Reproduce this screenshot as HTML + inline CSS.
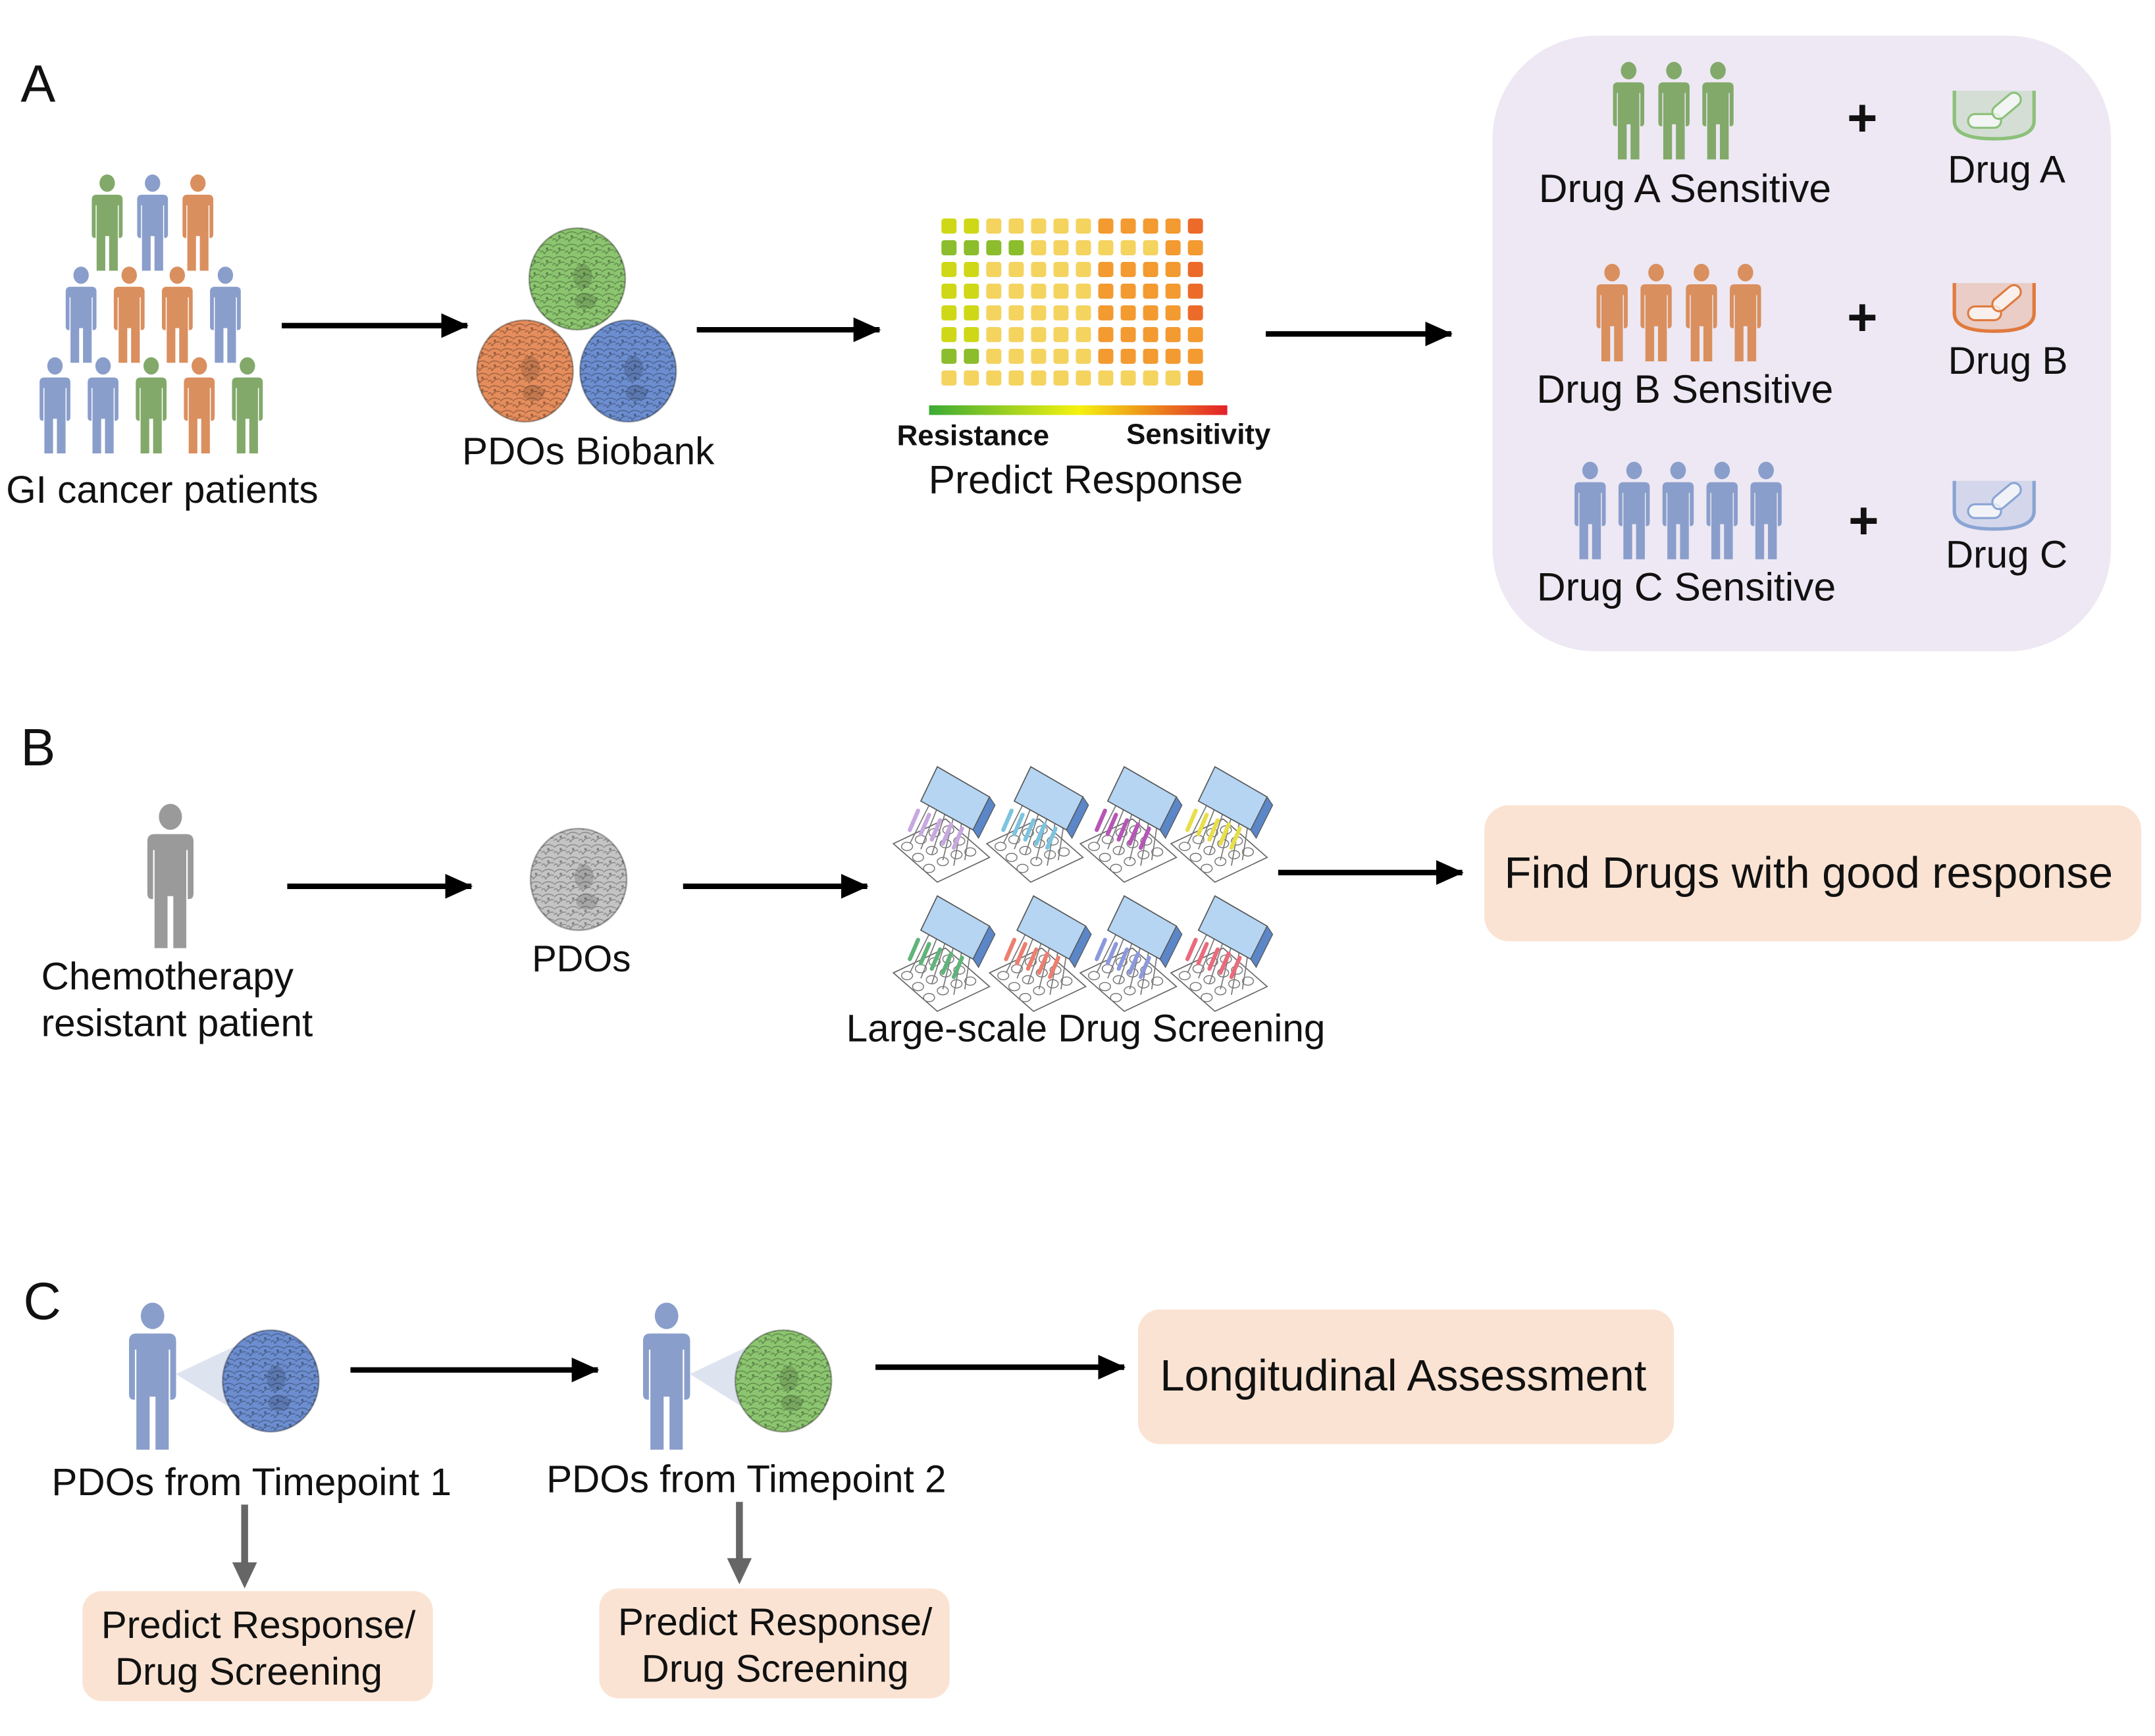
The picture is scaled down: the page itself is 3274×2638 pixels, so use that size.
<!DOCTYPE html>
<html><head><meta charset="utf-8"><style>
html,body{margin:0;padding:0;background:#fff}
svg{display:block}
text{font-family:"Liberation Sans",Arial,sans-serif;fill:#111}
</style></head><body>
<svg width="3274" height="2638" viewBox="0 0 1568 1263.4" xmlns="http://www.w3.org/2000/svg">
<defs>
<g id="p">
<ellipse cx="0" cy="9" rx="8" ry="9"/>
<path d="M-16,26 Q-16,21 -11,21 L11,21 Q16,21 16,26 L16,62 Q16,66 13,66 L12,66 L12,32 L11,32 L11,100 L2,100 L2,64 L-2,64 L-2,100 L-11,100 L-11,32 L-12,32 L-12,66 L-13,66 Q-16,66 -16,62 Z"/>
</g>
<marker id="ah" markerWidth="20" markerHeight="18" refX="19" refY="9" orient="auto" markerUnits="userSpaceOnUse" viewBox="0 0 20 18">
<path d="M0,0 L20,9 L0,18 Z" fill="#000"/></marker>
<pattern id="cells" width="9" height="9" patternUnits="userSpaceOnUse">
<path d="M0,4 Q4,0 9,3 M3,9 Q5,5 9,6 M0,8 Q2,5 3,9" fill="none" stroke="#000" stroke-opacity="0.3" stroke-width="0.7"/>
<circle cx="5" cy="5" r="0.9" fill="#000" fill-opacity="0.35"/>
</pattern>
<g id="org">
<ellipse cx="0" cy="0" rx="35" ry="37"/>
<ellipse cx="0" cy="0" rx="35" ry="37" fill="url(#cells)" stroke="#000" stroke-opacity="0.3" stroke-width="1.2"/>
<ellipse cx="4" cy="-2" rx="7" ry="9" fill="#000" fill-opacity="0.15"/>
<ellipse cx="6" cy="16" rx="8" ry="6" fill="#000" fill-opacity="0.15"/>
</g>
<g id="plate">
<path d="M4,58 L42,40 L74,68 L36,86 Z" fill="#fff" stroke="#666" stroke-width="0.8"/>
<g fill="none" stroke="#777" stroke-width="0.7">
<ellipse cx="14" cy="60" rx="4" ry="3"/><ellipse cx="24" cy="55" rx="4" ry="3"/><ellipse cx="34" cy="50" rx="4" ry="3"/><ellipse cx="44" cy="48" rx="4" ry="3"/>
<ellipse cx="22" cy="68" rx="4" ry="3"/><ellipse cx="32" cy="63" rx="4" ry="3"/><ellipse cx="42" cy="58" rx="4" ry="3"/><ellipse cx="52" cy="56" rx="4" ry="3"/>
<ellipse cx="30" cy="76" rx="4" ry="3"/><ellipse cx="40" cy="71" rx="4" ry="3"/><ellipse cx="50" cy="66" rx="4" ry="3"/><ellipse cx="60" cy="64" rx="4" ry="3"/>
</g>
<g stroke="#777" stroke-width="0.8"><line x1="30" y1="30" x2="16" y2="58"/><line x1="36" y1="32" x2="24" y2="62"/><line x1="42" y1="35" x2="32" y2="66"/><line x1="48" y1="38" x2="40" y2="70"/><line x1="54" y1="41" x2="48" y2="74"/><line x1="60" y1="44" x2="56" y2="70"/></g>
<path d="M36,2 L74,24 L62,48 L24,27 Z" fill="#b5d5f2" stroke="#555" stroke-width="0.8"/>
<path d="M74,24 L78,30 L66,54 L62,48 Z" fill="#5b86c8" stroke="#555" stroke-width="0.6"/>
</g>
<g id="cup">
<path d="M0,0 L0,22 Q0,35 29,35 Q58,35 58,22 L58,0" fill="currentColor" fill-opacity="0.25" stroke="currentColor" stroke-width="2.5"/>
<rect x="10" y="17" width="24" height="10" rx="5" fill="#fff" fill-opacity="0.7" stroke="currentColor" stroke-width="1.5"/>
<rect x="26" y="6" width="24" height="10" rx="5" transform="rotate(-40 38 11)" fill="#fff" fill-opacity="0.7" stroke="currentColor" stroke-width="1.5"/>
</g>
</defs>

<text x="15" y="74" font-size="38">A</text>
<text x="15" y="557" font-size="38">B</text>
<text x="17" y="960" font-size="38">C</text>

<use href="#p" transform="translate(78,127) scale(0.7)" fill="#82a96a"/>
<use href="#p" transform="translate(111,127) scale(0.7)" fill="#8a9ecb"/>
<use href="#p" transform="translate(144,127) scale(0.7)" fill="#da8f5e"/>
<use href="#p" transform="translate(59,194) scale(0.7)" fill="#8a9ecb"/>
<use href="#p" transform="translate(94,194) scale(0.7)" fill="#da8f5e"/>
<use href="#p" transform="translate(129,194) scale(0.7)" fill="#da8f5e"/>
<use href="#p" transform="translate(164,194) scale(0.7)" fill="#8a9ecb"/>
<use href="#p" transform="translate(40,260) scale(0.7)" fill="#8a9ecb"/>
<use href="#p" transform="translate(75,260) scale(0.7)" fill="#8a9ecb"/>
<use href="#p" transform="translate(110,260) scale(0.7)" fill="#82a96a"/>
<use href="#p" transform="translate(145,260) scale(0.7)" fill="#da8f5e"/>
<use href="#p" transform="translate(180,260) scale(0.7)" fill="#82a96a"/>
<text x="118" y="366" font-size="28" text-anchor="middle">GI cancer patients</text>

<line x1="205" y1="237" x2="340" y2="237" stroke="#000" stroke-width="4" marker-end="url(#ah)"/>

<use href="#org" transform="translate(420,203)" fill="#8cc56f"/>
<use href="#org" transform="translate(382,270)" fill="#e58d5c"/>
<use href="#org" transform="translate(457,270)" fill="#6c8ed0"/>
<text x="428" y="338" font-size="28" text-anchor="middle">PDOs Biobank</text>

<line x1="507" y1="240" x2="640" y2="240" stroke="#000" stroke-width="4" marker-end="url(#ah)"/>

<!-- heatmap rows: G G Y Y Y Y Y O O O O R -->
<g id="rA">
<rect x="685" y="159" width="11" height="11" rx="2" fill="#cfd816"/><rect x="701.3" y="159" width="11" height="11" rx="2" fill="#cfd816"/>
<rect x="717.6" y="159" width="11" height="11" rx="2" fill="#f4d35f"/><rect x="733.9" y="159" width="11" height="11" rx="2" fill="#f4d35f"/><rect x="750.2" y="159" width="11" height="11" rx="2" fill="#f4d35f"/><rect x="766.5" y="159" width="11" height="11" rx="2" fill="#f4d35f"/><rect x="782.8" y="159" width="11" height="11" rx="2" fill="#f4d35f"/>
<rect x="799.1" y="159" width="11" height="11" rx="2" fill="#f39a30"/><rect x="815.4" y="159" width="11" height="11" rx="2" fill="#f39a30"/><rect x="831.7" y="159" width="11" height="11" rx="2" fill="#f39a30"/><rect x="848" y="159" width="11" height="11" rx="2" fill="#f39a30"/>
<rect x="864.3" y="159" width="11" height="11" rx="2" fill="#ec6b2a"/>
</g>
<g transform="translate(0,15.8)">
<rect x="685" y="159" width="11" height="11" rx="2" fill="#8bbd2c"/><rect x="701.3" y="159" width="11" height="11" rx="2" fill="#8bbd2c"/><rect x="717.6" y="159" width="11" height="11" rx="2" fill="#8bbd2c"/><rect x="733.9" y="159" width="11" height="11" rx="2" fill="#8bbd2c"/>
<rect x="750.2" y="159" width="11" height="11" rx="2" fill="#f4d35f"/><rect x="766.5" y="159" width="11" height="11" rx="2" fill="#f4d35f"/><rect x="782.8" y="159" width="11" height="11" rx="2" fill="#f4d35f"/><rect x="799.1" y="159" width="11" height="11" rx="2" fill="#f4d35f"/><rect x="815.4" y="159" width="11" height="11" rx="2" fill="#f4d35f"/><rect x="831.7" y="159" width="11" height="11" rx="2" fill="#f4d35f"/>
<rect x="848" y="159" width="11" height="11" rx="2" fill="#f39a30"/><rect x="864.3" y="159" width="11" height="11" rx="2" fill="#f39a30"/>
</g>
<use href="#rA" transform="translate(0,31.6)"/>
<use href="#rA" transform="translate(0,47.4)"/>
<use href="#rA" transform="translate(0,63.2)"/>
<g id="rF" transform="translate(0,79)">
<rect x="685" y="159" width="11" height="11" rx="2" fill="#cfd816"/><rect x="701.3" y="159" width="11" height="11" rx="2" fill="#cfd816"/>
<rect x="717.6" y="159" width="11" height="11" rx="2" fill="#f4d35f"/><rect x="733.9" y="159" width="11" height="11" rx="2" fill="#f4d35f"/><rect x="750.2" y="159" width="11" height="11" rx="2" fill="#f4d35f"/><rect x="766.5" y="159" width="11" height="11" rx="2" fill="#f4d35f"/><rect x="782.8" y="159" width="11" height="11" rx="2" fill="#f4d35f"/>
<rect x="799.1" y="159" width="11" height="11" rx="2" fill="#f39a30"/><rect x="815.4" y="159" width="11" height="11" rx="2" fill="#f39a30"/><rect x="831.7" y="159" width="11" height="11" rx="2" fill="#f39a30"/><rect x="848" y="159" width="11" height="11" rx="2" fill="#f39a30"/><rect x="864.3" y="159" width="11" height="11" rx="2" fill="#f39a30"/>
</g>
<g transform="translate(0,94.8)">
<rect x="685" y="159" width="11" height="11" rx="2" fill="#8bbd2c"/><rect x="701.3" y="159" width="11" height="11" rx="2" fill="#8bbd2c"/>
<rect x="717.6" y="159" width="11" height="11" rx="2" fill="#f4d35f"/><rect x="733.9" y="159" width="11" height="11" rx="2" fill="#f4d35f"/><rect x="750.2" y="159" width="11" height="11" rx="2" fill="#f4d35f"/><rect x="766.5" y="159" width="11" height="11" rx="2" fill="#f4d35f"/><rect x="782.8" y="159" width="11" height="11" rx="2" fill="#f4d35f"/>
<rect x="799.1" y="159" width="11" height="11" rx="2" fill="#f39a30"/><rect x="815.4" y="159" width="11" height="11" rx="2" fill="#f39a30"/><rect x="831.7" y="159" width="11" height="11" rx="2" fill="#f39a30"/><rect x="848" y="159" width="11" height="11" rx="2" fill="#f39a30"/><rect x="864.3" y="159" width="11" height="11" rx="2" fill="#f39a30"/>
</g>
<g transform="translate(0,110.6)" fill="#f4d35f">
<rect x="685" y="159" width="11" height="11" rx="2"/><rect x="701.3" y="159" width="11" height="11" rx="2"/><rect x="717.6" y="159" width="11" height="11" rx="2"/><rect x="733.9" y="159" width="11" height="11" rx="2"/><rect x="750.2" y="159" width="11" height="11" rx="2"/><rect x="766.5" y="159" width="11" height="11" rx="2"/><rect x="782.8" y="159" width="11" height="11" rx="2"/><rect x="799.1" y="159" width="11" height="11" rx="2"/><rect x="815.4" y="159" width="11" height="11" rx="2"/><rect x="831.7" y="159" width="11" height="11" rx="2"/><rect x="848" y="159" width="11" height="11" rx="2"/><rect x="864.3" y="159" width="11" height="11" rx="2" fill="#f39a30"/>
</g>
<linearGradient id="cb" x1="0" x2="1"><stop offset="0" stop-color="#3aaa35"/><stop offset="0.5" stop-color="#f5f20f"/><stop offset="1" stop-color="#e3202a"/></linearGradient>
<rect x="676" y="295" width="217" height="7" fill="url(#cb)"/>
<text x="708" y="324" font-size="21" font-weight="bold" text-anchor="middle">Resistance</text>
<text x="872" y="323" font-size="21" font-weight="bold" text-anchor="middle">Sensitivity</text>
<text x="790" y="359" font-size="29" text-anchor="middle">Predict Response</text>

<line x1="921" y1="243" x2="1056" y2="243" stroke="#000" stroke-width="4" marker-end="url(#ah)"/>

<rect x="1086" y="26" width="450" height="448" rx="75" fill="#ede8f3"/>
<use href="#p" transform="translate(1185,45) scale(0.71)" fill="#82a96a"/>
<use href="#p" transform="translate(1218,45) scale(0.71)" fill="#82a96a"/>
<use href="#p" transform="translate(1250,45) scale(0.71)" fill="#82a96a"/>
<text x="1226" y="147" font-size="29" text-anchor="middle">Drug A Sensitive</text>
<use href="#p" transform="translate(1173,192) scale(0.71)" fill="#da8f5e"/>
<use href="#p" transform="translate(1205,192) scale(0.71)" fill="#da8f5e"/>
<use href="#p" transform="translate(1238,192) scale(0.71)" fill="#da8f5e"/>
<use href="#p" transform="translate(1270,192) scale(0.71)" fill="#da8f5e"/>
<text x="1226" y="293" font-size="29" text-anchor="middle">Drug B Sensitive</text>
<use href="#p" transform="translate(1157,336) scale(0.71)" fill="#8a9ecb"/>
<use href="#p" transform="translate(1189,336) scale(0.71)" fill="#8a9ecb"/>
<use href="#p" transform="translate(1221,336) scale(0.71)" fill="#8a9ecb"/>
<use href="#p" transform="translate(1253,336) scale(0.71)" fill="#8a9ecb"/>
<use href="#p" transform="translate(1285,336) scale(0.71)" fill="#8a9ecb"/>
<text x="1227" y="437" font-size="29" text-anchor="middle">Drug C Sensitive</text>
<text x="1355" y="99" font-size="38" font-weight="bold" text-anchor="middle">+</text>
<text x="1355" y="244" font-size="38" font-weight="bold" text-anchor="middle">+</text>
<text x="1356" y="392" font-size="38" font-weight="bold" text-anchor="middle">+</text>
<use href="#cup" transform="translate(1422,66)" style="color:#8cc07a"/>
<use href="#cup" transform="translate(1422,206)" style="color:#e07a3e"/>
<use href="#cup" transform="translate(1422,350)" style="color:#8aa4d4"/>
<text x="1460" y="133" font-size="28" text-anchor="middle">Drug A</text>
<text x="1461" y="272" font-size="28" text-anchor="middle">Drug B</text>
<text x="1460" y="413" font-size="28" text-anchor="middle">Drug C</text>

<!-- Panel B -->
<use href="#p" transform="translate(124,585) scale(1.05)" fill="#9a9a9a"/>
<text x="30" y="720" font-size="28">Chemotherapy</text>
<text x="30" y="754" font-size="28">resistant patient</text>
<line x1="209" y1="645" x2="343" y2="645" stroke="#000" stroke-width="4" marker-end="url(#ah)"/>
<use href="#org" transform="translate(421,640)" fill="#c4c4c4"/>
<text x="423" y="707" font-size="27" text-anchor="middle">PDOs</text>
<line x1="497" y1="645" x2="631" y2="645" stroke="#000" stroke-width="4" marker-end="url(#ah)"/>

<use href="#plate" transform="translate(646,556)"/>
<use href="#plate" transform="translate(714,556)"/>
<use href="#plate" transform="translate(782,556)"/>
<use href="#plate" transform="translate(848,556)"/>
<use href="#plate" transform="translate(646,650)"/>
<use href="#plate" transform="translate(716,650)"/>
<use href="#plate" transform="translate(782,650)"/>
<use href="#plate" transform="translate(848,650)"/>
<g stroke-width="3" stroke-linecap="round">
<g stroke="#c7a8e0"><path d="M668,590 l-6,14 M676,593 l-6,14 M684,597 l-6,14 M692,600 l-6,14 M700,603 l-6,14"/></g>
<g stroke="#7cc4e0"><path d="M736,590 l-6,14 M744,593 l-6,14 M752,597 l-6,14 M760,600 l-6,14 M768,603 l-6,14"/></g>
<g stroke="#b656b6"><path d="M804,590 l-6,14 M812,593 l-6,14 M820,597 l-6,14 M828,600 l-6,14 M836,603 l-6,14"/></g>
<g stroke="#e8df4a"><path d="M870,590 l-6,14 M878,593 l-6,14 M886,597 l-6,14 M894,600 l-6,14 M902,603 l-6,14"/></g>
<g stroke="#5fb47a"><path d="M668,684 l-6,14 M676,687 l-6,14 M684,691 l-6,14 M692,694 l-6,14 M700,697 l-6,14"/></g>
<g stroke="#ec7f70"><path d="M738,684 l-6,14 M746,687 l-6,14 M754,691 l-6,14 M762,694 l-6,14 M770,697 l-6,14"/></g>
<g stroke="#8d99dc"><path d="M804,684 l-6,14 M812,687 l-6,14 M820,691 l-6,14 M828,694 l-6,14 M836,697 l-6,14"/></g>
<g stroke="#e96b7c"><path d="M870,684 l-6,14 M878,687 l-6,14 M886,691 l-6,14 M894,694 l-6,14 M902,697 l-6,14"/></g>
</g>
<text x="790" y="758" font-size="28" text-anchor="middle">Large-scale Drug Screening</text>
<line x1="930" y1="635" x2="1064" y2="635" stroke="#000" stroke-width="4" marker-end="url(#ah)"/>
<rect x="1080" y="586" width="478" height="99" rx="18" fill="#fbe3d3"/>
<text x="1316" y="646" font-size="32" text-anchor="middle">Find Drugs with good response</text>

<!-- Panel C -->
<path d="M128,1000 L196,968 L196,1042 Z" fill="#dde3ef"/>
<use href="#p" transform="translate(111,948) scale(1.07)" fill="#8a9ecb"/>
<use href="#org" transform="translate(197,1005)" fill="#6c8ed0"/>
<path d="M502,1000 L569,968 L569,1042 Z" fill="#dde3ef"/>
<use href="#p" transform="translate(485,948) scale(1.07)" fill="#8a9ecb"/>
<use href="#org" transform="translate(570,1005)" fill="#8cc56f"/>
<line x1="255" y1="997" x2="435" y2="997" stroke="#000" stroke-width="4" marker-end="url(#ah)"/>
<line x1="637" y1="995" x2="818" y2="995" stroke="#000" stroke-width="4" marker-end="url(#ah)"/>
<text x="183" y="1088" font-size="28" text-anchor="middle">PDOs from Timepoint 1</text>
<text x="543" y="1086" font-size="28" text-anchor="middle">PDOs from Timepoint 2</text>
<rect x="828" y="953" width="390" height="98" rx="16" fill="#fbe3d3"/>
<text x="1021" y="1012" font-size="32" text-anchor="middle">Longitudinal Assessment</text>

<line x1="178" y1="1095" x2="178" y2="1140" stroke="#666" stroke-width="5"/>
<path d="M169,1137 L187,1137 L178,1156 Z" fill="#666"/>
<line x1="538" y1="1093" x2="538" y2="1137" stroke="#666" stroke-width="5"/>
<path d="M529,1134 L547,1134 L538,1153 Z" fill="#666"/>
<rect x="60" y="1158" width="255" height="80" rx="14" fill="#fbe3d3"/>
<text x="188" y="1192" font-size="28" text-anchor="middle">Predict Response/</text>
<text x="181" y="1226" font-size="28" text-anchor="middle">Drug Screening</text>
<rect x="436" y="1156" width="255" height="80" rx="14" fill="#fbe3d3"/>
<text x="564" y="1190" font-size="28" text-anchor="middle">Predict Response/</text>
<text x="564" y="1224" font-size="28" text-anchor="middle">Drug Screening</text>
</svg>
</body></html>
